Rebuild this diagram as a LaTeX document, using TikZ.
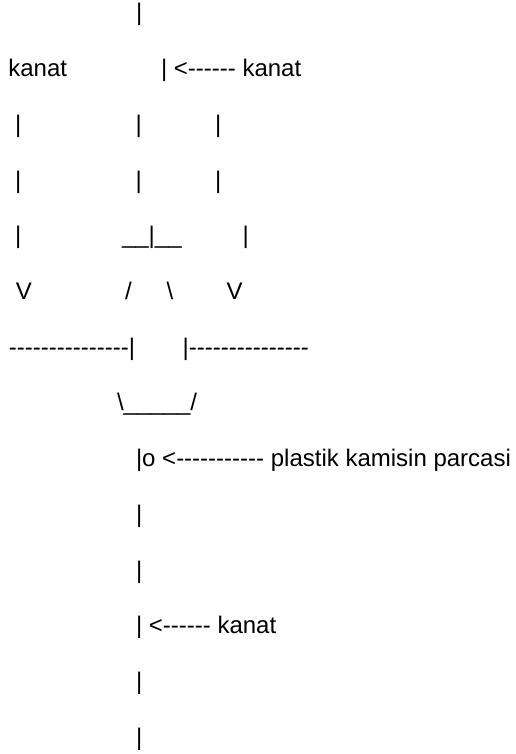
\documentclass[tikz,border=0pt]{standalone}
\usepackage{fontspec}
\setmainfont{Liberation Sans}
\usepackage{tikz}

% a row of plain hyphens, kept apart so they stay hyphens
\newcommand{\dashrun}[1]{\foreach \d in {1,...,#1}{-\kern0pt}}

\tikzset{
	asc/.style={anchor=base west, inner sep=0pt, outer sep=0pt, font=\fontsize{24}{28}\selectfont}
}

\begin{document}
\begin{tikzpicture}[x=1pt,y=-1pt]
				\useasboundingbox (0,0) rectangle (516,754);
				\begin{scope}
					\node[asc] (top) at (136, 21) {|}; % ust
					\node[asc] (kanatL) at (8.4, 76.7) {kanat};
					\node[asc] (kanatR) at (161, 76.7) {| <\dashrun{6} kanat};

					\node[asc] (l1a) at (15, 132.4) {|};
					\node[asc] (l1b) at (135.5, 132.4) {|};
					\node[asc] (l1c) at (215, 132.4) {|};
					\node[asc] (l2a) at (15, 188.1) {|};
					\node[asc] (l2b) at (135.5, 188.1) {|};
					\node[asc] (l2c) at (215, 188.1) {|};

					\node[asc] (l3a) at (15, 243.8) {|};
					\node[asc] (hub) at (122, 243.8) {\_\_|\_\_}; % gobek
					\node[asc] (l3c) at (242.7, 243.8) {|};

					\node[asc] (vL) at (16, 299.5) {V};
					\node[asc] (slashL) at (125, 299.5) {/};
					\node[asc] (slashR) at (166.5, 299.5) {\textbackslash};
					\node[asc] (vR) at (226.5, 299.5) {V};

					\node[asc] (barL) at (9, 355.2) {\dashrun{15}|}; % sol kol
					\node[asc] (barR) at (182.7, 355.2) {|\dashrun{15}}; % sag kol
					\node[asc] (cup) at (117, 410.9) {\textbackslash\_\_\_\_\_/};

					\node[asc] (cap) at (136, 466.6) {|o <\dashrun{11} plastik kamisin parcasi};
					\node[asc] (s1) at (136, 522.3) {|};
					\node[asc] (s2) at (136, 578) {|};
					\node[asc] (kanatB) at (136, 633.7) {| <\dashrun{6} kanat};
					\node[asc] (s3) at (136, 689.4) {|};
					\node[asc] (s4) at (136, 745.1) {|};
				\end{scope}
			\end{tikzpicture}
\end{document}
